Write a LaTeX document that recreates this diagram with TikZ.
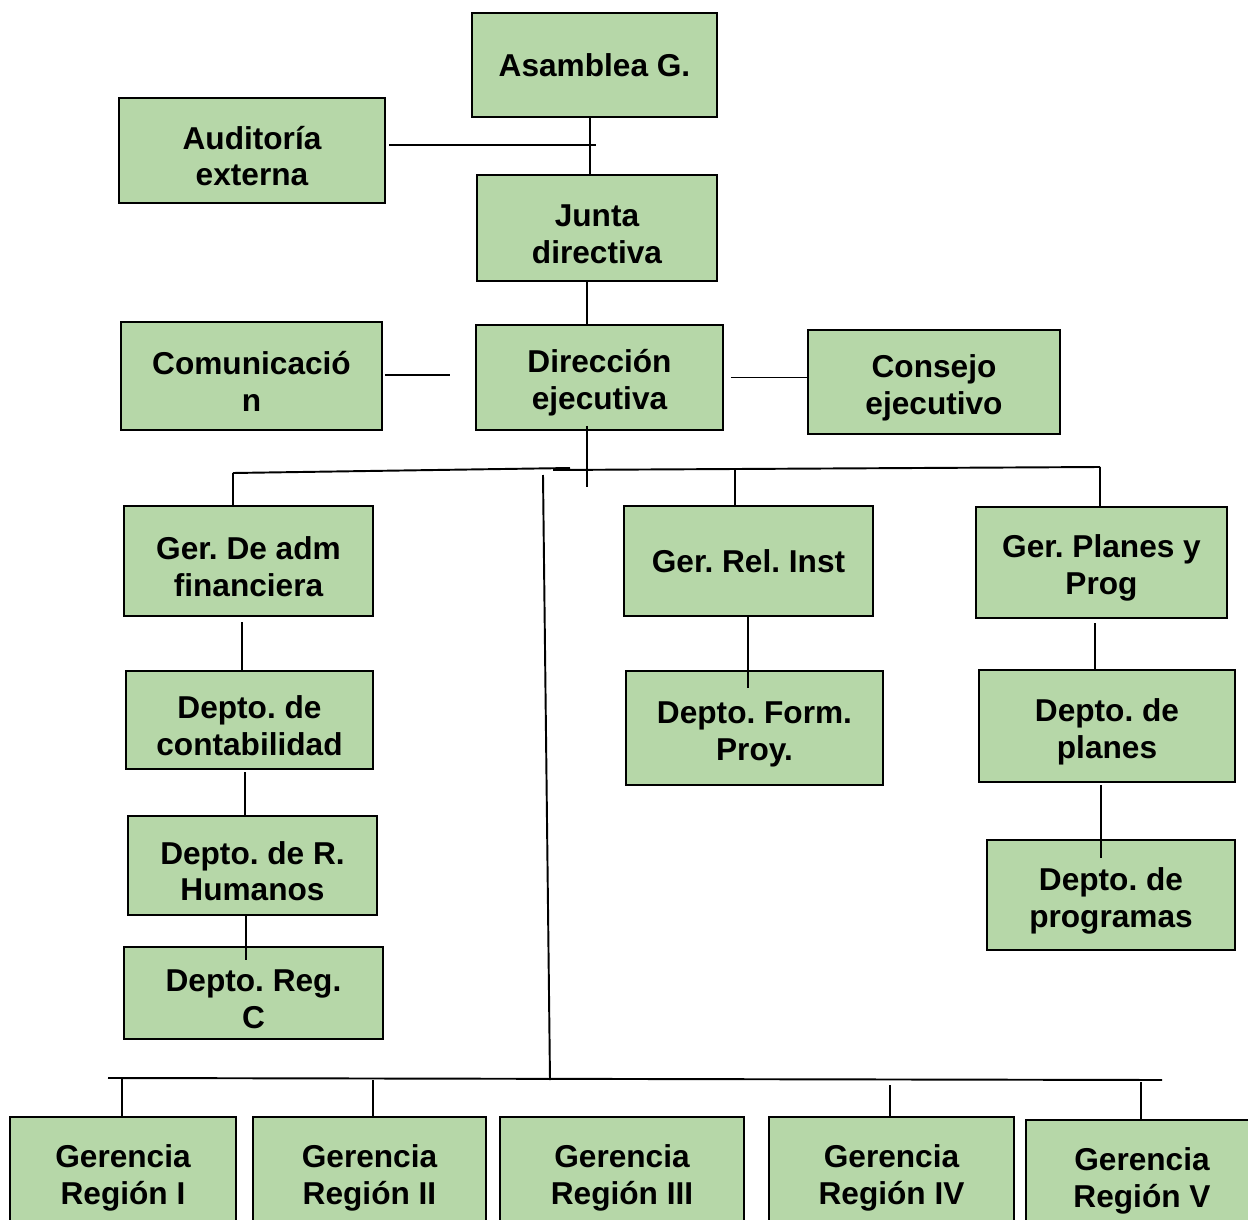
\documentclass[tikz,border=0pt]{standalone}
\usepackage{fontspec}
\setmainfont{Liberation Sans}
\definecolor{verde}{HTML}{B6D7A8}
\frenchspacing
\newcommand{\doslin}[2]{\rule{0pt}{19.5pt}#1\\#2}

\begin{document}
\begin{tikzpicture}[x=0.02cm, y=-0.02cm,
    caja/.style={draw, fill=verde, line width=1.1pt, align=center, inner sep=0pt,
      font=\bfseries\fontsize{18}{21}\selectfont},
    linea/.style={line width=1.1pt}]
            \clip (0,0) rectangle (1248,1220);
            % cajas
            \node[caja, minimum width=4.9cm, minimum height=2.08cm] (asam) at (594.5,65) {Asamblea G.};
            \node[caja, minimum width=5.32cm, minimum height=2.1cm] (audit) at (252,150.5) {\doslin{Auditoría}{externa}};
            \node[caja, minimum width=4.8cm, minimum height=2.12cm] (junta) at (597,228) {\doslin{Junta}{directiva}};
            \node[caja, minimum width=5.22cm, minimum height=2.16cm] (comun) at (251.5,376) {\doslin{Comunicació}{n}};
            \node[caja, minimum width=4.94cm, minimum height=2.1cm] (direc) at (599.5,377.5) {\doslin{Dirección}{ejecutiva}};
            \node[caja, minimum width=5.04cm, minimum height=2.08cm] (consejo) at (934,382) {\doslin{Consejo}{ejecutivo}};
            \node[caja, minimum width=4.98cm, minimum height=2.2cm] (gadm) at (248.5,561) {\doslin{Ger. De adm}{financiera}};
            \node[caja, minimum width=4.98cm, minimum height=2.2cm] (grel) at (748.5,561) {Ger. Rel. Inst};
            \node[caja, minimum width=5.02cm, minimum height=2.22cm] (gplan) at (1101.5,562.5) {\doslin{Ger. Planes y}{Prog}};
            \node[caja, minimum width=4.94cm, minimum height=1.96cm] (dcont) at (249.5,720) {\doslin{Depto. de}{contabilidad}};
            \node[caja, minimum width=4.98cm, minimum height=1.98cm] (drh) at (252.5,865.5) {\doslin{Depto. de R.}{Humanos}};
            \node[caja, minimum width=5.18cm, minimum height=1.84cm] (dreg) at (253.5,993) {\doslin{Depto. Reg.}{C}};
            \node[caja, minimum width=5.14cm, minimum height=2.28cm] (dform) at (754.5,728) {\doslin{Depto. Form.}{Proy.}};
            \node[caja, minimum width=5.12cm, minimum height=2.24cm] (dplan) at (1107,726) {\doslin{Depto. de}{planes}};
            \node[caja, minimum width=4.96cm, minimum height=2.2cm] (dprog) at (1111,895) {\doslin{Depto. de}{programas}};
            \node[caja, minimum width=4.52cm, minimum height=2.2cm] (greg1) at (123,1172) {\doslin{Gerencia}{Región I}};
            \node[caja, minimum width=4.66cm, minimum height=2.2cm] (greg2) at (369.5,1172) {\doslin{Gerencia}{Región II}};
            \node[caja, minimum width=4.88cm, minimum height=2.2cm] (greg3) at (622,1172) {\doslin{Gerencia}{Región III}};
            \node[caja, minimum width=4.9cm, minimum height=2.2cm] (greg4) at (891.5,1172) {\doslin{Gerencia}{Región IV}};
            \node[caja, minimum width=4.64cm, minimum height=2.2cm] (greg5) at (1142,1175) {\doslin{Gerencia}{Región V}};
            % puntos de union
            \coordinate (j1) at (590,145);
            \coordinate (j2) at (587,487);
            \coordinate (s1) at (450,375);
            \coordinate (b1) at (233,473);
            \coordinate (b2) at (570,468);
            \coordinate (b3) at (553,470);
            \coordinate (b4) at (1100,467);
            \coordinate (b5) at (735,470);
            \coordinate (v1) at (543,475);
            \coordinate (v2) at (550,1080);
            \coordinate (c1) at (108,1078);
            \coordinate (c2) at (1162,1080);
            \coordinate (r1) at (122,1078);
            \coordinate (r2) at (373,1080);
            \coordinate (r4) at (890,1085);
            \coordinate (r5) at (1141,1082);
            \coordinate (f1) at (242,622);
            \coordinate (f2) at (245,772);
            \coordinate (f3) at (246,915);
            \coordinate (f4) at (246,960);
            \coordinate (g1) at (748,616);
            \coordinate (g2) at (748,688);
            \coordinate (p1) at (1095,623);
            \coordinate (p2) at (1101,785);
            \coordinate (p3) at (1101,858);
            % lineas
            \draw[linea] (asam.south -| j1) -- (junta.north -| j1);
            \draw[linea] ([xshift=0.06cm]audit.east |- j1) -- ([xshift=0.12cm]j1);
            \draw[linea] (junta.south -| j2) -- (direc.north -| j2);
            \draw[linea] ([yshift=0.1cm]direc.south -| j2) -- (j2);
            \draw[linea] ([xshift=0.04cm]comun.east |- s1) -- (s1);
            \draw[linea] ([xshift=0.14cm]direc.east) -- (direc.east -| consejo.west);
            \draw[linea] (b1) -- (b2);
            \draw[linea] (b3) -- (b4);
            \draw[linea] (b1) -- (b1 |- gadm.north);
            \draw[linea] (b5) -- (b5 |- grel.north);
            \draw[linea] (b4) -- (b4 |- gplan.north);
            \draw[linea] (f1) -- (f1 |- dcont.north);
            \draw[linea] (f2) -- (f2 |- drh.north);
            \draw[linea] (f3) -- (f4);
            \draw[linea] (g1) -- (g2);
            \draw[linea] (p1) -- (p1 |- dplan.north);
            \draw[linea] (p2) -- (p3);
            \draw[linea] (v1) -- (v2);
            \draw[linea] (c1) -- (c2);
            \draw[linea] (r1) -- (r1 |- greg1.north);
            \draw[linea] (r2) -- (r2 |- greg2.north);
            \draw[linea] (r4) -- (r4 |- greg4.north);
            \draw[linea] (r5) -- (r5 |- greg5.north);
\end{tikzpicture}
\end{document}
